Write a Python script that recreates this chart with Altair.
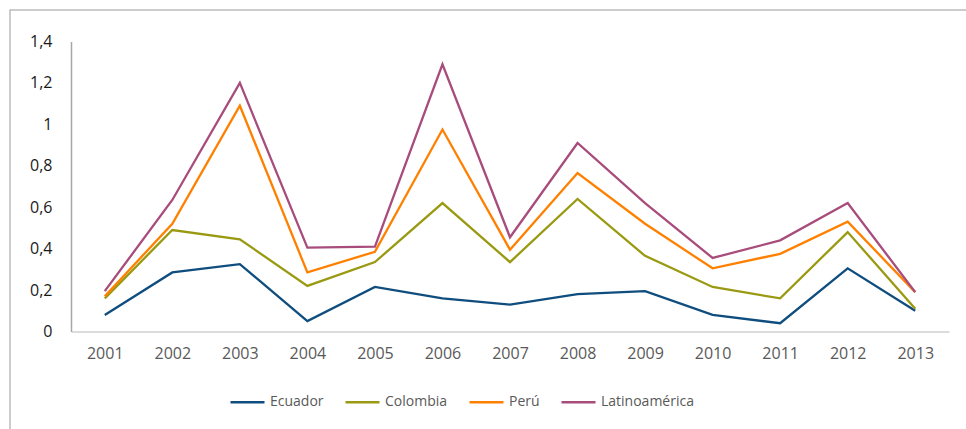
import altair as alt
import pandas as pd

years = ["2001", "2002", "2003", "2004", "2005", "2006", "2007",
         "2008", "2009", "2010", "2011", "2012", "2013"]
ecuador = [0.08, 0.285, 0.325, 0.05, 0.215, 0.16, 0.13, 0.18, 0.195, 0.08, 0.04, 0.305, 0.10]
colombia = [0.16, 0.49, 0.445, 0.22, 0.335, 0.62, 0.335, 0.64, 0.365, 0.215, 0.16, 0.48, 0.11]
peru = [0.17, 0.52, 1.09, 0.285, 0.385, 0.975, 0.395, 0.765, 0.52, 0.305, 0.375, 0.53, 0.19]
latam = [0.195, 0.635, 1.20, 0.405, 0.41, 1.29, 0.455, 0.91, 0.62, 0.355, 0.44, 0.62, 0.19]

series_names = ["Ecuador", "Colombia", "Perú", "Latinoamérica"]
series_colors = ["#0E4D7E", "#9A9A12", "#FF8000", "#A84C7C"]
y_ticks = [0, 0.2, 0.4, 0.6, 0.8, 1.0, 1.2, 1.4]

rows = []
for name, vals in zip(series_names, [ecuador, colombia, peru, latam]):
    for yr, v in zip(years, vals):
        rows.append({"year": yr, "value": v, "serie": name})
df = pd.DataFrame(rows)

FONT = "Open Sans"

lines = alt.Chart(df).mark_line(strokeWidth=2.3).encode(
    x=alt.X("year:O", sort=years,
            scale=alt.Scale(type="point", padding=0.5),
            axis=alt.Axis(title=None, labelAngle=0, ticks=False, grid=False,
                          domainColor="#d0d0d0", domainWidth=1.5,
                          labelColor="#595959", labelFont=FONT, labelFontSize=16,
                          labelPadding=14)),
    y=alt.Y("value:Q", scale=alt.Scale(domain=[0, 1.4], nice=False),
            axis=alt.Axis(title=None, values=y_ticks, ticks=False, grid=False,
                          domainColor="#a6a6a6", domainWidth=1.5,
                          labelColor="#1a1a1a", labelFont=FONT, labelFontSize=16,
                          labelPadding=19,
                          labelExpr="replace(format(datum.value, '.1~f'), '.', ',')")),
    color=alt.Color("serie:N",
                    scale=alt.Scale(domain=series_names, range=series_colors),
                    sort=series_names,
                    legend=alt.Legend(title=None, orient="none", direction="horizontal",
                                      legendX=158, legendY=342,
                                      symbolType="stroke", symbolSize=1156,
                                      symbolStrokeWidth=2.5, labelOffset=4,
                                      columnPadding=16,
                                      labelFont=FONT, labelFontSize=14,
                                      labelColor="#595959")),
)

# light outer frame around the figure
frame = alt.Chart(alt.Data(values=[{}])).mark_rect(
    fill=None, stroke="#bcbcbc", strokeWidth=1.5
).encode(
    x=alt.value(-61), x2=alt.value(960),
    y=alt.value(-31.5), y2=alt.value(500),
)

chart = alt.layer(frame, lines).properties(
    width=878, height=290,
    padding={"left": 71, "top": 41.5, "right": 17, "bottom": 97.5},
    autosize=alt.AutoSizeParams(type="none"),
    background="white",
).configure_view(stroke=None)

chart.save("out.html", embed_options={"renderer": "svg", "actions": False})
